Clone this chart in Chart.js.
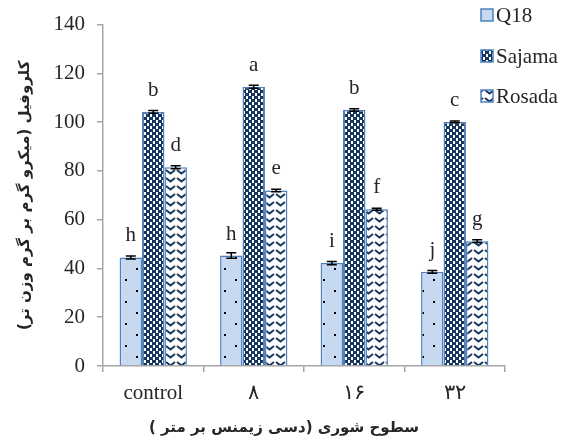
<!DOCTYPE html>
<html>
<head>
<meta charset="utf-8">
<script src="https://cdn.jsdelivr.net/npm/chart.js@4"></script>
<style>
  html, body { margin: 0; padding: 0; background: #fff; }
  #wrap { width: 566px; height: 446px; position: relative; }
</style>
</head>
<body>
<div id="wrap"><canvas id="chart"></canvas></div>
<script>
// ─── Data ─────────────────────────────────────────────────────────────────────
const categories     = ['control', '۸', '۱۶', '۳۲'];
const seriesNames    = ['Q18', 'Sajama', 'Rosada'];
const q18Values      = [44.5, 45.3, 42.2, 38.6];
const sajamaValues   = [104.2, 114.5, 105.0, 100.1];
const rosadaValues   = [81.5, 72.0, 64.3, 51.2];
const q18Errors      = [0.6, 1.1, 0.7, 0.6];
const sajamaErrors   = [0.6, 0.6, 0.5, 0.4];
const rosadaErrors   = [0.6, 0.5, 0.4, 0.6];
const q18Letters     = ['h', 'h', 'i', 'j'];
const sajamaLetters  = ['b', 'a', 'b', 'c'];
const rosadaLetters  = ['d', 'e', 'f', 'g'];
const yTitle = 'کلروفیل (میکرو گرم بر گرم وزن تر)';
const xTitle = 'سطوح شوری (دسی زیمنس بر متر )';

// ─── Style ────────────────────────────────────────────────────────────────────
const NAVY   = '#17375e';
const LIGHT  = '#c6d9f1';
const EDGE   = '#4f81bd';
const AXIS   = '#a6a6a6';
const TEXT   = '#262626';
const SERIF  = "'Liberation Serif', 'Times New Roman', serif";
const FA     = "'DejaVu Sans', sans-serif";

// ─── Fill patterns ────────────────────────────────────────────────────────────
function makeTile(w, h, draw) {
  const c = document.createElement('canvas');
  c.width = w; c.height = h;
  draw(c.getContext('2d'));
  return c.getContext('2d').createPattern(c, 'repeat');
}

const dotPattern = makeTile(22, 22, g => {
  g.fillStyle = LIGHT; g.fillRect(0, 0, 22, 22);
  g.fillStyle = '#000';
  g.fillRect(4, 4, 2, 2);
  g.fillRect(15, 15, 2, 2);
});

// checkerboard, navy cells a little larger than the white ones
const checkPattern = makeTile(6, 6, g => {
  g.fillStyle = NAVY; g.fillRect(0, 0, 6, 6);
  g.fillStyle = '#fff';
  g.fillRect(0, 0, 3, 3);
  g.fillRect(3, 3, 3, 3);
  g.fillStyle = NAVY;
  g.fillRect(2, 0, 1, 3);
  g.fillRect(5, 3, 1, 3);
});

// rows of separate chevrons
const zigPattern = makeTile(11, 8, g => {
  g.fillStyle = '#fff'; g.fillRect(0, 0, 11, 8);
  g.strokeStyle = NAVY; g.lineWidth = 2;
  g.beginPath();
  g.moveTo(1, 2); g.lineTo(5.5, 5.5); g.lineTo(10, 2);
  g.stroke();
});

const fills   = [dotPattern, checkPattern, zigPattern];
const errors  = [q18Errors, sajamaErrors, rosadaErrors];
const letters = [q18Letters, sajamaLetters, rosadaLetters];

// ─── Plugins: error bars, letters, legend, axis titles ────────────────────────
const annotate = {
  id: 'annotate',
  afterDatasetsDraw(chart) {
    const { ctx } = chart;
    const y = chart.scales.y;
    ctx.save();
    chart.data.datasets.forEach((ds, di) => {
      const meta = chart.getDatasetMeta(di);
      meta.data.forEach((bar, i) => {
        const v = ds.data[i], e = errors[di][i];
        const yHi = y.getPixelForValue(v + e);
        const yLo = y.getPixelForValue(v - e);
        ctx.strokeStyle = '#000';
        ctx.lineWidth = 1.5;
        ctx.beginPath();
        ctx.moveTo(bar.x, yHi); ctx.lineTo(bar.x, yLo);
        ctx.moveTo(bar.x - 5, yHi); ctx.lineTo(bar.x + 5, yHi);
        ctx.moveTo(bar.x - 5, yLo); ctx.lineTo(bar.x + 5, yLo);
        ctx.stroke();

        ctx.fillStyle = TEXT;
        ctx.font = '21px ' + SERIF;
        ctx.textAlign = 'center';
        ctx.textBaseline = 'alphabetic';
        ctx.fillText(letters[di][i], bar.x, bar.y - 16);
      });
    });
    ctx.restore();
  },
  afterDraw(chart) {
    const { ctx, chartArea } = chart;
    ctx.save();
    // legend
    const rows = [15, 56, 96];
    seriesNames.forEach((name, i) => {
      const bx = 481, by = rows[i] - 6;
      ctx.fillStyle = fills[i];
      ctx.fillRect(bx, by, 12, 12);
      ctx.strokeStyle = EDGE; ctx.lineWidth = 1.5;
      ctx.strokeRect(bx, by, 12, 12);
      ctx.fillStyle = TEXT;
      ctx.font = '21px ' + SERIF;
      ctx.textAlign = 'left';
      ctx.textBaseline = 'middle';
      ctx.fillText(name, 496, rows[i] + 1);
    });
    // axis titles (right-to-left text)
    ctx.fillStyle = TEXT;
    ctx.direction = 'rtl';
    ctx.textAlign = 'center';
    ctx.textBaseline = 'middle';
    ctx.font = 'bold 15px ' + FA;
    ctx.fillText(xTitle, 284, 428);
    ctx.translate(25, (chartArea.top + chartArea.bottom) / 2);
    ctx.rotate(-Math.PI / 2);
    ctx.fillText(yTitle, 0, 0);
    ctx.restore();
  },
};

// ─── Chart ────────────────────────────────────────────────────────────────────
const seriesValues = [q18Values, sajamaValues, rosadaValues];

new Chart(document.getElementById('chart'), {
  type: 'bar',
  data: {
    labels: categories,
    datasets: seriesNames.map((name, i) => ({
      label: name,
      data: seriesValues[i],
      backgroundColor: fills[i],
      borderColor: EDGE,
      borderWidth: 1.5,
      categoryPercentage: 0.67,
      barPercentage: 1.0,
    })),
  },
  options: {
    responsive: true,
    maintainAspectRatio: false,
    animation: false,
    layout: { padding: { top: 21, right: 61, left: 0, bottom: 0 } },
    plugins: { legend: { display: false }, tooltip: { enabled: false } },
    scales: {
      x: {
        grid: { display: true, drawOnChartArea: false, color: AXIS, tickLength: 6, lineWidth: 1.5 },
        border: { color: AXIS, width: 1.5 },
        ticks: { color: TEXT, font: { size: 21, family: SERIF }, padding: 9 },
        afterFit(s) { s.height = 80; },
      },
      y: {
        min: 0, max: 140,
        grid: { display: true, drawOnChartArea: false, color: AXIS, tickLength: 6, lineWidth: 1.5 },
        border: { color: AXIS, width: 1.5 },
        ticks: { stepSize: 20, color: TEXT, font: { size: 21, family: SERIF }, padding: 12 },
        afterFit(s) { s.width = 103; },
      },
    },
  },
  plugins: [annotate],
});
</script>
</body>
</html>
